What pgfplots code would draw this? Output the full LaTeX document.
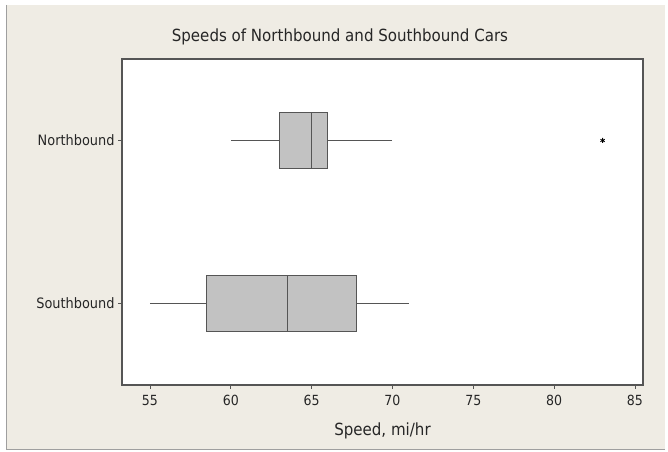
\documentclass[border=0pt]{standalone}
\usepackage{fontspec}
\setmainfont{DejaVu Sans Condensed}
\usepackage{pgfplots}
\usepgfplotslibrary{statistics}
\pgfplotsset{compat=1.18}
\definecolor{bg}{HTML}{EFECE4}
\definecolor{boxfill}{HTML}{C2C2C2}
\definecolor{edge}{HTML}{555555}
\begin{document}
\begin{tikzpicture}[x=1bp,y=1bp]
\fill[white] (0,0) rectangle (668,452);
\fill[bg] (6,2) rectangle (665,447);
\draw[gray!75, line width=1.5bp] (6.5,447) -- (6.5,2.5) -- (665,2.5);
\begin{axis}[
  at={(122bp,67bp)}, anchor=south west,
  scale only axis, width=521bp, height=326bp,
  xmin=53.27, xmax=85.5, ymin=0.5, ymax=2.5,
  xtick={55,60,65,70,75,80,85},
  ytick={1,2}, yticklabels={Southbound,Northbound},
  xtick pos=lower, ytick pos=left,
  tick align=outside, major tick length=4bp,
  tick style={edge, line width=0.8bp},
  axis line style={edge, line width=1.1bp},
  axis background/.style={fill=white},
  /pgf/number format/assume math mode=true,
  xticklabel style={font=\fontsize{14}{16}\selectfont, text=black!85, yshift=-3bp},
  yticklabel style={font=\fontsize{14.4}{16}\selectfont, text=black!85},
  boxplot/draw direction=x,
  boxplot/whisker extend=0,
]
\addplot+[solid, draw=edge, fill=boxfill, line width=1bp,
  mark=asterisk, mark size=2.5bp, mark options={black, solid, line width=0.8bp},
  boxplot prepared={lower whisker=55, lower quartile=58.5, median=63.5,
    upper quartile=67.8, upper whisker=71, draw position=1, box extend=0.34}]
  coordinates {};
\addplot+[solid, draw=edge, fill=boxfill, line width=1bp,
  mark=asterisk, mark size=2.5bp, mark options={black, solid, line width=0.8bp},
  boxplot prepared={lower whisker=60, lower quartile=63, median=65,
    upper quartile=66, upper whisker=70, draw position=2, box extend=0.34}]
  table[row sep=\\, y index=0] {data\\ 83\\};
\end{axis}
\node[font=\fontsize{16.8}{19}\selectfont, text=black!85] at (340,415) {Speeds of Northbound and Southbound Cars};
\node[font=\fontsize{16.8}{19}\selectfont, text=black!85] at (382.5,21) {Speed, mi/hr};
\end{tikzpicture}
\end{document}
